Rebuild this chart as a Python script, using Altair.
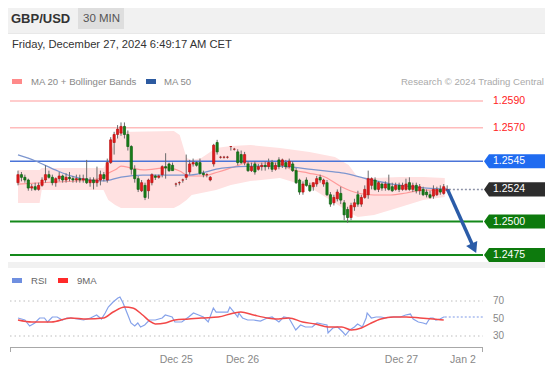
import altair as alt
import pandas as pd

# ---------------- data ----------------
opens = [1.2529,1.2535,1.2533,1.2531,1.2525,1.2526,1.2524,1.2527,1.2531,1.2535,
1.2533,1.2529,1.2532,1.2534,1.2531,1.2533,1.2532,1.2531,1.2532,1.2531,
1.2532,1.2529,1.2531,1.2529,1.2531,1.2535,1.2531,1.2544,1.2559,1.2565,
1.2566,1.2571,1.2565,1.2556,1.2539,1.2532,1.2523,1.2527,1.2523,1.2529,
1.2534,1.2533,1.2535,1.2541,1.2543,1.2542,1.2528,1.2529,1.2531,1.2533,
1.2537,1.2543,1.2544,1.2544,1.2536,1.2535,1.2531,1.2543,1.2559,1.2548,
1.2548,1.2548,1.2556,1.2554,1.2552,1.2550,1.2544,1.2543,1.2538,1.2543,
1.2539,1.2541,1.2542,1.2541,1.2544,1.2539,1.2546,1.2542,1.2544,1.2541,
1.2543,1.2538,1.2531,1.2522,1.2531,1.2527,1.2526,1.2528,1.2533,1.2528,
1.2529,1.2520,1.2514,1.2517,1.2521,1.2514,1.2509,1.2503,1.2511,1.2520,
1.2513,1.2518,1.2520,1.2527,1.2531,1.2524,1.2528,1.2525,1.2528,1.2526,
1.2524,1.2527,1.2524,1.2524,1.2529,1.2524,1.2527,1.2523,1.2524,1.2522,
1.2520,1.2519,1.2520,1.2524,1.2521,1.2523]
highs = [1.2538,1.2537,1.2535,1.2532,1.2528,1.2529,1.2529,1.2533,1.2542,1.2538,
1.2535,1.2533,1.2537,1.2535,1.2536,1.2537,1.2534,1.2535,1.2535,1.2535,
1.2546,1.2533,1.2533,1.2541,1.2538,1.2537,1.2547,1.2563,1.2567,1.2572,
1.2574,1.2574,1.2568,1.2557,1.2542,1.2534,1.2531,1.2529,1.2532,1.2536,
1.2535,1.2535,1.2542,1.2551,1.2544,1.2544,1.2529,1.2530,1.2532,1.2550,
1.2546,1.2547,1.2545,1.2547,1.2538,1.2536,1.2534,1.2558,1.2561,1.2549,
1.2549,1.2549,1.2556,1.2555,1.2554,1.2553,1.2552,1.2545,1.2544,1.2545,
1.2543,1.2544,1.2545,1.2547,1.2546,1.2544,1.2548,1.2547,1.2546,1.2547,
1.2545,1.2540,1.2532,1.2530,1.2533,1.2529,1.2529,1.2534,1.2535,1.2532,
1.2531,1.2522,1.2520,1.2524,1.2526,1.2516,1.2511,1.2514,1.2517,1.2523,
1.2520,1.2527,1.2538,1.2533,1.2533,1.2530,1.2529,1.2530,1.2535,1.2529,
1.2529,1.2529,1.2529,1.2532,1.2533,1.2529,1.2529,1.2528,1.2526,1.2524,
1.2523,1.2527,1.2526,1.2527,1.2528,1.2527]
lows = [1.2527,1.2530,1.2529,1.2523,1.2523,1.2523,1.2523,1.2526,1.2529,1.2532,
1.2527,1.2526,1.2530,1.2529,1.2529,1.2530,1.2529,1.2529,1.2529,1.2529,
1.2528,1.2526,1.2524,1.2526,1.2527,1.2530,1.2529,1.2543,1.2550,1.2562,
1.2564,1.2562,1.2553,1.2535,1.2529,1.2522,1.2522,1.2516,1.2517,1.2527,
1.2531,1.2532,1.2533,1.2532,1.2537,1.2538,1.2526,1.2527,1.2529,1.2531,
1.2535,1.2541,1.2541,1.2535,1.2533,1.2533,1.2530,1.2541,1.2550,1.2547,
1.2547,1.2547,1.2553,1.2553,1.2542,1.2543,1.2542,1.2537,1.2537,1.2535,
1.2538,1.2538,1.2538,1.2539,1.2537,1.2538,1.2539,1.2540,1.2539,1.2540,
1.2537,1.2528,1.2520,1.2520,1.2526,1.2522,1.2523,1.2526,1.2529,1.2526,
1.2519,1.2511,1.2512,1.2515,1.2513,1.2501,1.2499,1.2501,1.2508,1.2511,
1.2511,1.2517,1.2517,1.2524,1.2523,1.2522,1.2523,1.2523,1.2523,1.2522,
1.2523,1.2522,1.2523,1.2523,1.2523,1.2522,1.2521,1.2520,1.2519,1.2518,
1.2517,1.2517,1.2519,1.2520,1.2520,1.2523]
closes = [1.2535,1.2533,1.2531,1.2525,1.2526,1.2524,1.2527,1.2531,1.2535,1.2533,
1.2529,1.2532,1.2534,1.2531,1.2533,1.2532,1.2531,1.2532,1.2531,1.2532,
1.2529,1.2531,1.2529,1.2531,1.2535,1.2532,1.2544,1.2561,1.2565,1.2569,
1.2571,1.2565,1.2556,1.2539,1.2532,1.2524,1.2529,1.2518,1.2531,1.2535,
1.2533,1.2534,1.2541,1.2540,1.2538,1.2538,1.2528,1.2529,1.2531,1.2535,
1.2543,1.2544,1.2542,1.2536,1.2535,1.2535,1.2533,1.2557,1.2552,1.2548,
1.2548,1.2548,1.2556,1.2554,1.2544,1.2544,1.2550,1.2538,1.2541,1.2537,
1.2541,1.2542,1.2541,1.2544,1.2539,1.2542,1.2541,1.2546,1.2541,1.2545,
1.2538,1.2529,1.2522,1.2528,1.2527,1.2523,1.2529,1.2532,1.2531,1.2531,
1.2520,1.2513,1.2518,1.2522,1.2516,1.2505,1.2503,1.2512,1.2514,1.2513,
1.2518,1.2524,1.2532,1.2532,1.2524,1.2529,1.2525,1.2528,1.2524,1.2523,
1.2527,1.2524,1.2527,1.2528,1.2524,1.2527,1.2523,1.2526,1.2520,1.2520,
1.2518,1.2524,1.2524,1.2522,1.2526,1.2524]

ma50_idx = [0,5.1,10.9,15.4,20.6,24.9,30,36.3,50,59.4,69.1,76.3,84.6,90,94.9,102,110.6,119.1,124.9]
ma50_val = [1.25497,1.25452,1.25385,1.25340,1.25310,1.25303,1.25332,1.25347,1.25347,1.25398,
            1.25414,1.25414,1.25392,1.25377,1.25362,1.25317,1.25273,1.25250,1.25243]

ma20_idx = [0,10.6,21.1,24.9,26.3,28.6,30,32.9,36.6,43.4,47.1,49.7,53.4,58.3,62.9,66.9,75.1,80,
            84.6,89.4,94.3,98.9,103.7,108.6,113.1,118,124.9]
ma20_val = [1.25280,1.25295,1.25310,1.25330,1.25360,1.25390,1.25414,1.25400,1.25385,1.25400,
            1.25377,1.25340,1.25340,1.25370,1.25407,1.25437,1.25437,1.25385,1.25362,1.25332,
            1.25258,1.25213,1.25198,1.25198,1.25213,1.25235,1.25235]

bb_idx = [0,6.3,6.9,24.9,26.3,28.3,30,45.4,47.1,49.1,50.6,53.4,57.7,62,67.7,76.3,84.9,92.3,
          96.3,98.9,103.7,111.4,118,124.3]
bb_upper = [1.25385,1.25385,1.25400,1.25400,1.25459,1.25609,1.25668,1.25676,1.25646,1.25474,
            1.25459,1.25474,1.25549,1.25564,1.25571,1.25549,1.25519,1.25482,1.25423,1.25332,
            1.25325,1.25332,1.25332,1.25325]
bb_lower = [1.25138,1.25138,1.25235,1.25235,1.25160,1.25123,1.25101,1.25101,1.25123,1.25160,
            1.25198,1.25213,1.25235,1.25273,1.25302,1.25325,1.25258,1.25138,1.25071,1.25034,
            1.25049,1.25108,1.25160,1.25183]

rsi_idx = [0,2,3.4,4.9,6.3,7.7,8.6,10,11.4,12.9,14.3,15.4,19.1,21.1,22.9,24.3,25.4,26.3,27.7,
           29.1,29.7,30.6,32,32.9,34,34.9,35.7,36.9,38.3,40,42,42.9,44.9,45.7,47.7,49.7,51.1,
           52.6,54,55.4,56.9,57.7,59.1,61.1,61.7,62.9,64,64.3,65.4,66.9,68.6,70.6,72.6,74,76,
           77.4,78.9,80.9,82.3,83.7,85.7,87.1,88.6,90,90.3,91.7,93.1,94.6,95.4,96.6,98,98.9,
           100.3,101.4,101.7,102.9,104.3,105.7,107.1,108.6,110,111.4,112.9,114.3,115.1,116.6,
           118,118.9,120,120.9,121.7,122.9,124,124.3]
rsi_val = [50.6,48.3,41.4,44.9,50.6,50.6,46,51.7,51.7,48.3,50.6,50.6,48.3,50.6,54,49.4,56.3,
           63.1,68.9,73.4,74.6,67.7,54,44.9,41.4,44.9,40.3,42.6,48.3,48.3,50.6,54,51.7,46,46,
           51.7,56.3,54,51.7,46,62,57.4,57.4,57.4,63.1,57.4,51.7,56.3,50.6,48.3,48.3,47.1,50.6,
           51.7,46,51.7,50.6,36.9,42.6,40.3,40.3,44.9,43.7,42.6,33.4,39.1,40.3,34.6,31.1,36.9,
           40.3,43.7,40.3,50.6,56.3,50.6,51.7,51.7,50.6,51.7,51.7,51.7,54,55.1,49.4,46,44.9,
           43.7,50.6,50.6,48.3,49.4,51.7,51.7]

rsima_idx = [0,4,9.7,15.4,20,24.9,27.7,31.1,33.4,36.3,38.3,40,42.9,45.7,49.7,53.4,58.3,62.9,
             64.9,68.6,72.6,75.1,78.9,82.9,86.6,90.3,94.3,97.1,100,102.9,105.7,109.4,113.1,
             117.1,120.9,124]
rsima_val = [48.3,46,46,50.6,49.4,50.6,57.4,63.1,62,54,47.1,43.7,44.9,48.3,49.4,50.6,51.7,56.3,
             57.4,54,50.6,49.4,50.6,46,43.7,40.3,40.3,36.9,39.1,44.9,49.4,51.7,51.7,50.6,49.4,48.3]

resistances = [1.2590, 1.2570]
pivot = 1.2545
last_price = 1.2524
supports = [1.2500, 1.2475]
arrow_idx = [125.1, 132.8]
arrow_price = [1.2524, 1.2480]
rsi_levels = [70, 50, 30]
rsi_grid = [70, 30]
tick_idx = [46.1, 65.4, 111.7, 129.6]
tick_labels = ["Dec 25", "Dec 26", "Dec 27", "Jan 2"]

# ---------------- chart ----------------
W, H = 537, 359
FONT = "Liberation Sans"
xsc = alt.Scale(domain=[0, 150], range=[5, 530])
psc = alt.Scale(domain=[1.2475, 1.2590], range=[247, 93])
rsc = alt.Scale(domain=[30, 70], range=[328, 293])

def X(f):
    return alt.X(f, type="quantitative", scale=xsc, axis=None)

def YP(f):
    return alt.Y(f, type="quantitative", scale=psc, axis=None)

def YR(f):
    return alt.Y(f, type="quantitative", scale=rsc, axis=None)

one = pd.DataFrame({"k": [0]})

def box(x, x2, y, y2, color):
    return alt.Chart(one).mark_rect(color=color).encode(
        x=alt.value(x), x2=alt.value(x2), y=alt.value(y), y2=alt.value(y2))

def label(text, x, y, size, color, bold=False, align="left"):
    return alt.Chart(one).mark_text(
        text=text, font=FONT, fontSize=size, color=color,
        fontWeight="bold" if bold else "normal", align=align, baseline="middle"
    ).encode(x=alt.value(x), y=alt.value(y))

layers = []
# panels
layers.append(box(0, W, 26, 254, "#ffffff"))
layers.append(box(0, W, 260, 359, "#ffffff"))
layers.append(box(0, W, 25, 26, "#e8e8e8"))
# header
layers.append(box(70, 116, 0, 21, "#dedede"))
layers.append(label("GBP/USD", 3, 11, 13, "#333333", bold=True))
layers.append(label("30 MIN", 75, 11, 11.5, "#555555"))
layers.append(label("Friday, December 27, 2024 6:49:17 AM CET", 4, 37, 11.2, "#333333"))
# legend main
layers.append(box(4, 14, 71, 76, "#ff8a8a"))
layers.append(label("MA 20 + Bollinger Bands", 23, 73.5, 9.6, "#888888"))
layers.append(box(138, 148, 71, 76, "#2c5aa0"))
layers.append(label("MA 50", 156, 73.5, 9.6, "#888888"))
layers.append(label("Research \u00a9 2024 Trading Central", 536, 73.5, 9.6, "#aaaaaa", align="right"))

# bollinger band
bbdf = pd.DataFrame({"i": bb_idx, "u": bb_upper, "l": bb_lower})
layers.append(alt.Chart(bbdf).mark_area(color="#ffe1e1", opacity=1).encode(
    x=X("i"), y=YP("u"), y2=alt.Y2("l")))

# level lines
resdf = pd.DataFrame({"p": resistances})
layers.append(alt.Chart(resdf).mark_rule(color="#ffbcbc", strokeWidth=1.5).encode(
    x=alt.value(2), x2=alt.value(475), y=YP("p")))
layers.append(alt.Chart(resdf).mark_text(align="left", baseline="middle", font=FONT,
    fontSize=10.5, color="#ff2222").encode(
    x=alt.value(485), y=YP("p"), text=alt.Text("p:Q", format=".4f")))
pivdf = pd.DataFrame({"p": [pivot]})
layers.append(alt.Chart(pivdf).mark_rule(color="#4a74d8", strokeWidth=1.3).encode(
    x=alt.value(2), x2=alt.value(475), y=YP("p")))
supdf = pd.DataFrame({"p": supports})
layers.append(alt.Chart(supdf).mark_rule(color="#14891a", strokeWidth=2).encode(
    x=alt.value(2), x2=alt.value(475), y=YP("p")))

# moving averages
ma20df = pd.DataFrame({"i": ma20_idx, "v": ma20_val})
layers.append(alt.Chart(ma20df).mark_line(color="#ff9a9a", strokeWidth=1.2, interpolate="monotone").encode(
    x=X("i"), y=YP("v")))
ma50df = pd.DataFrame({"i": ma50_idx, "v": ma50_val})
layers.append(alt.Chart(ma50df).mark_line(color="#7d96cf", strokeWidth=1.3, interpolate="monotone").encode(
    x=X("i"), y=YP("v")))

# candles
cdf = pd.DataFrame({"i": list(range(len(opens))), "o": opens, "h": highs, "l": lows, "c": closes})
cdf["dir"] = ["up" if c >= o else "down" for o, c in zip(opens, closes)]
layers.append(alt.Chart(cdf).mark_rule(color="#6a6a6a", strokeWidth=1).encode(
    x=X("i"), y=YP("h"), y2=alt.Y2("l")))
layers.append(alt.Chart(cdf).mark_bar(width=2.2, strokeWidth=0.7).encode(
    x=X("i"), y=YP("o"), y2=alt.Y2("c"),
    color=alt.Color("dir:N", scale=alt.Scale(domain=["up", "down"], range=["#e3191b", "#17801a"]), legend=None),
    stroke=alt.Stroke("dir:N", scale=alt.Scale(domain=["up", "down"], range=["#b81212", "#0f6010"]), legend=None)))

# last price dotted line
lastdf = pd.DataFrame({"i": [len(opens) - 1 + 0.5], "p": [last_price]})
layers.append(alt.Chart(lastdf).mark_rule(color="#8d93a8", strokeWidth=1.5, strokeDash=[2, 2]).encode(
    x=X("i"), x2=alt.value(476), y=YP("p")))

# forecast arrow
arrdf = pd.DataFrame({"i": arrow_idx, "p": arrow_price})
layers.append(alt.Chart(arrdf).mark_line(color="#2b5ca8", strokeWidth=3.5).encode(
    x=X("i"), y=YP("p")))
headdf = arrdf.iloc[[1]]
layers.append(alt.Chart(headdf).mark_point(shape="triangle-down", size=150, filled=True,
    opacity=1, angle=335, color="#2b5ca8").encode(x=X("i"), y=YP("p")))

# price tags
TAG = "M-1,0L-0.836,-0.23L1,-0.23L1,0.23L-0.836,0.23Z"
tagdf = pd.DataFrame({"p": [pivot, last_price] + supports,
                      "kind": ["pivot", "last", "support", "support"]})
layers.append(alt.Chart(tagdf).mark_point(shape=TAG, size=3721, filled=True, opacity=1,
    strokeWidth=0).encode(
    x=alt.value(506.5), y=YP("p"),
    color=alt.Color("kind:N", scale=alt.Scale(domain=["pivot", "last", "support"],
                    range=["#1f6bf0", "#2d2d2d", "#0d7a0d"]), legend=None)))
layers.append(alt.Chart(tagdf).mark_text(align="left", baseline="middle", font=FONT,
    fontSize=10.5, color="#ffffff").encode(
    x=alt.value(485), y=YP("p"), text=alt.Text("p:Q", format=".4f")))

# RSI panel
layers.append(box(4, 14, 270, 275, "#6f8fe0"))
layers.append(label("RSI", 23, 272.5, 9.6, "#666666"))
layers.append(box(50, 60, 270, 275, "#ff2a2a"))
layers.append(label("9MA", 69, 272.5, 9.6, "#666666"))
griddf = pd.DataFrame({"v": rsi_grid})
layers.append(alt.Chart(griddf).mark_rule(color="#bdbdbd", strokeWidth=1, strokeDash=[1.5, 3]).encode(
    x=alt.value(2), x2=alt.value(475), y=YR("v")))
lvdf = pd.DataFrame({"v": rsi_levels})
layers.append(alt.Chart(lvdf).mark_text(align="left", baseline="middle", font=FONT,
    fontSize=10, color="#888888").encode(x=alt.value(485), y=YR("v"), text="v:Q"))
rsidf = pd.DataFrame({"i": rsi_idx, "v": rsi_val})
layers.append(alt.Chart(rsidf).mark_line(color="#86a2ea", strokeWidth=1.2).encode(
    x=X("i"), y=YR("v")))
extdf = pd.DataFrame({"i": [rsi_idx[-1]], "v": [rsi_val[-1]]})
layers.append(alt.Chart(extdf).mark_rule(color="#a9bcef", strokeWidth=1.3, strokeDash=[2, 2]).encode(
    x=X("i"), x2=alt.value(475), y=YR("v")))
rmadf = pd.DataFrame({"i": rsima_idx, "v": rsima_val})
layers.append(alt.Chart(rmadf).mark_line(color="#f24848", strokeWidth=1.5, interpolate="monotone").encode(
    x=X("i"), y=YR("v")))

# x axis
layers.append(alt.Chart(one).mark_rule(color="#a8a8a8", strokeWidth=1).encode(
    x=alt.value(2), x2=alt.value(475), y=alt.value(339.5)))
layers.append(alt.Chart(one).mark_rule(color="#a8a8a8", strokeWidth=1).encode(
    x=alt.value(2.5), y=alt.value(339.5), y2=alt.value(344)))
layers.append(alt.Chart(one).mark_rule(color="#a8a8a8", strokeWidth=1).encode(
    x=alt.value(474.5), y=alt.value(339.5), y2=alt.value(344)))
tickdf = pd.DataFrame({"i": tick_idx, "t": tick_labels})
layers.append(alt.Chart(tickdf).mark_text(align="center", baseline="middle", font=FONT,
    fontSize=10.5, color="#888888").encode(x=X("i"), y=alt.value(352), text="t:N"))

chart = alt.layer(*layers).resolve_scale(
    y="independent", color="independent", stroke="independent"
).properties(
    width=W, height=H, padding=0, background="#f1f1f1",
    autosize=alt.AutoSizeParams(type="none")
).configure_view(strokeWidth=0)

chart.save("out.html", embed_options={"renderer": "svg", "actions": False})
